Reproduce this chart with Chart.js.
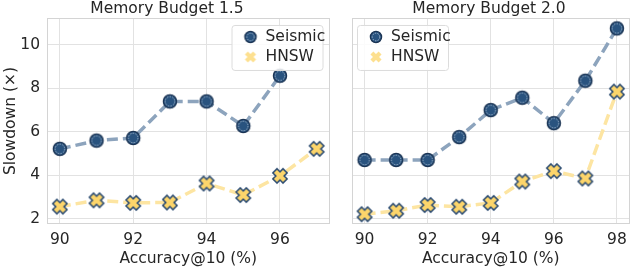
<!DOCTYPE html>
<html>
<head>
<meta charset="utf-8">
<script src="https://cdn.jsdelivr.net/npm/chart.js@4.4.1/dist/chart.umd.min.js"></script>
<style>
  body { margin: 0; background: #fff; }
  .pane { position: absolute; top: 0; height: 268px; }
</style>
</head>
<body>
<div class="pane" style="left:0;width:340px"><canvas id="left" width="340" height="268"></canvas></div>
<div class="pane" style="left:340px;width:300px"><canvas id="right" width="300" height="268"></canvas></div>
<script>
// 데이터
var accLeft = [90, 91, 92, 93, 94, 95, 96, 97];
var seismicLeft = [5.22, 5.6, 5.72, 7.4, 7.4, 6.27, 8.58, null];
var hnswLeft = [2.57, 2.86, 2.74, 2.76, 3.63, 3.1, 3.98, 5.22];

var accRight = [90, 91, 92, 93, 94, 95, 96, 97, 98];
var seismicRight = [4.71, 4.71, 4.71, 5.76, 7.0, 7.57, 6.4, 8.35, 10.75];
var hnswRight = [2.22, 2.38, 2.64, 2.56, 2.74, 3.72, 4.2, 3.86, 7.85];

var yTicks = [2, 4, 6, 8, 10];
var xTicksLeft = [90, 92, 94, 96];
var xTicksRight = [90, 92, 94, 96, 98];

var seriesNames = ['Seismic', 'HNSW'];

var FONT = 'DejaVu Sans';
var FS = 15.5;
var TXT = '#262626';

// 마커 그리기
function seismicMarker(r) {
	var c = document.createElement('canvas');
	var s = Math.ceil(r * 2 + 4);
	c.width = s; c.height = s;
	var g = c.getContext('2d');
	g.beginPath();
	g.arc(s / 2, s / 2, r, 0, Math.PI * 2);
	g.fillStyle = '#29537f';
	g.fill();
	g.lineWidth = 1.3;
	g.strokeStyle = '#1a3353';
	g.stroke();
	g.beginPath();
	g.arc(s / 2, s / 2, r - 1.8, 0, Math.PI * 2);
	g.setLineDash([1.5, 1.2]);
	g.lineWidth = 0.8;
	g.strokeStyle = 'rgba(220,230,240,0.8)';
	g.stroke();
	return c;
}

function hnswMarker(a, t, edge) {
	var c = document.createElement('canvas');
	var s = 18;
	c.width = s; c.height = s;
	var g = c.getContext('2d');
	var m = s / 2;
	function xs(lw, col) {
		g.lineWidth = lw;
		g.lineCap = 'square';
		g.strokeStyle = col;
		g.beginPath();
		g.moveTo(m - a, m - a); g.lineTo(m + a, m + a);
		g.moveTo(m - a, m + a); g.lineTo(m + a, m - a);
		g.stroke();
	}
	if (edge) xs(t + 3, '#2a4a70');
	xs(t, edge ? '#fcd56b' : 'rgba(252,213,107,0.75)');
	return c;
}

var seisImg = seismicMarker(6.6);
var hnswImg = hnswMarker(3, 4.4, true);
var seisLegImg = seismicMarker(5.6);
var hnswLegImg = hnswMarker(2.6, 4.2, false);

function pts(xs, ys) {
	var out = [];
	for (var i = 0; i < xs.length; i++) {
		if (ys[i] != null) out.push({ x: xs[i], y: ys[i] });
	}
	return out;
}

// 프레임 + 범례
var framePlugin = {
	id: 'frame',
	beforeDatasetsDraw: function(chart) {
		var a = chart.chartArea, g = chart.ctx;
		g.save();
		g.strokeStyle = '#d4d4d4';
		g.lineWidth = 1;
		g.strokeRect(Math.round(a.left) + 0.5, Math.round(a.top) + 0.5, Math.round(a.right - a.left) - 1, Math.round(a.bottom - a.top) - 1);
		g.restore();
	},
	afterDatasetsDraw: function(chart, args, opts) {
		var a = chart.chartArea, g = chart.ctx;
		var w = 91, h = 45;
		var bx = opts.side == 'right' ? a.right - 7 - w : a.left + 5;
		var by = a.top + 7;
		g.save();
		g.beginPath();
		g.roundRect(bx + 0.5, by + 0.5, w, h, 3);
		g.fillStyle = 'rgba(255,255,255,0.85)';
		g.fill();
		g.strokeStyle = '#dcdcdc';
		g.lineWidth = 1;
		g.stroke();
		g.font = FS + 'px ' + FONT;
		g.fillStyle = TXT;
		g.textBaseline = 'middle';
		g.drawImage(seisLegImg, bx + 19 - seisLegImg.width / 2, by + 12 - seisLegImg.height / 2);
		g.fillText(seriesNames[0], bx + 34, by + 12);
		g.drawImage(hnswLegImg, bx + 19 - hnswLegImg.width / 2, by + 32 - hnswLegImg.height / 2);
		g.fillText(seriesNames[1], bx + 34, by + 32);
		g.restore();
	}
};

function makeChart(id, title, xs, seis, hnsw, xTicks, xMin, xMax, isLeft) {
	return new Chart(document.getElementById(id), {
		type: 'line',
		data: {
			datasets: [
				{
					label: seriesNames[0],
					data: pts(xs, seis),
					borderColor: '#8da4bd',
					borderWidth: 3.5,
					borderDash: [11, 5],
					pointStyle: seisImg,
					pointRadius: 7,
					tension: 0,
					order: 1
				},
				{
					label: seriesNames[1],
					data: pts(xs, hnsw),
					borderColor: '#fde5a2',
					borderWidth: 3.5,
					borderDash: [11, 5],
					pointStyle: hnswImg,
					pointRadius: 7,
					tension: 0,
					order: 2
				}
			]
		},
		options: {
			responsive: false,
			animation: false,
			devicePixelRatio: 1,
			layout: { padding: { left: 0, right: isLeft ? 6 : 2, top: 0, bottom: 0 } },
			plugins: {
				legend: { display: false },
				tooltip: { enabled: false },
				title: {
					display: true,
					text: title,
					color: TXT,
					font: { family: FONT, size: FS, weight: 'normal', lineHeight: 1.16 },
					padding: { top: 0, bottom: 0 }
				},
				frame: { side: isLeft ? 'right' : 'left' }
			},
			scales: {
				x: {
					type: 'linear',
					min: xMin,
					max: xMax,
					afterBuildTicks: function(s) { s.ticks = xTicks.map(function(v) { return { value: v }; }); },
					afterFit: function(s) { s.height = 44; },
					grid: { color: '#e2e2e2', drawTicks: false },
					border: { display: false },
					ticks: { color: TXT, padding: 7, font: { family: FONT, size: FS } },
					title: {
						display: true,
						text: 'Accuracy@10 (%)',
						color: TXT,
						font: { family: FONT, size: FS },
						padding: { top: 0, bottom: 0 }
					}
				},
				y: {
					min: 1.77,
					max: 11.23,
					afterBuildTicks: function(s) { s.ticks = yTicks.map(function(v) { return { value: v }; }); },
					afterFit: function(s) { s.width = isLeft ? 47 : 12; },
					grid: { color: '#e2e2e2', drawTicks: false },
					border: { display: false },
					ticks: { display: isLeft, color: TXT, padding: 7, font: { family: FONT, size: FS } },
					title: {
						display: isLeft,
						text: 'Slowdown (×)',
						color: TXT,
						font: { family: FONT, size: FS },
						padding: { top: 2, bottom: 0 }
					}
				}
			}
		},
		plugins: [framePlugin]
	});
}

makeChart('left', 'Memory Budget 1.5', accLeft, seismicLeft, hnswLeft, xTicksLeft, 89.65, 97.35, true);
makeChart('right', 'Memory Budget 2.0', accRight, seismicRight, hnswRight, xTicksRight, 89.6, 98.4, false);
</script>
</body>
</html>
